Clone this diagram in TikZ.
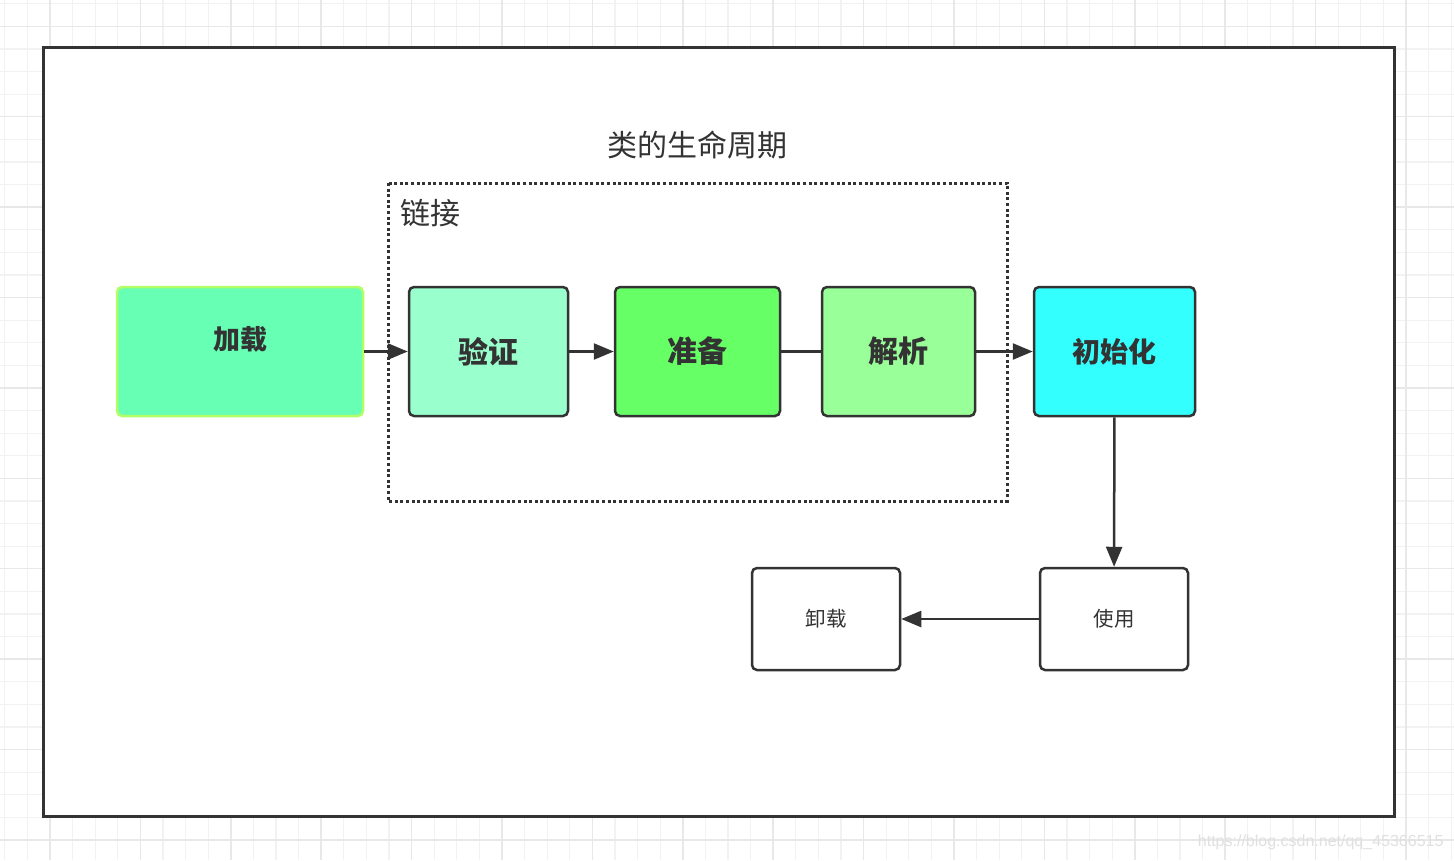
\documentclass[tikz,border=0pt]{standalone}
\usepackage{fontspec}
\usepackage{tikz}
\usetikzlibrary{arrows.meta}
\newfontfamily\cjk{Noto Sans CJK SC}
\newfontfamily\wmfont{Liberation Sans}
\definecolor{ink}{HTML}{333333}
\definecolor{loadfill}{HTML}{66FFB3}
\definecolor{loadline}{HTML}{B3FF66}
\definecolor{verifyfill}{HTML}{99FFCC}
\definecolor{preparefill}{HTML}{66FF66}
\definecolor{resolvefill}{HTML}{99FF99}
\definecolor{initfill}{HTML}{33FFFF}
\definecolor{gridminor}{HTML}{F2F2F2}
\definecolor{gridmajor}{HTML}{E8E8E8}

\begin{document}
\begin{tikzpicture}[x=1pt,y=-1pt,
  stage/.style={draw=ink,line width=2.5pt,rounded corners=5pt,minimum height=129pt,
    text=ink,font=\cjk\bfseries\fontsize{30pt}{34pt}\selectfont},
  plainbox/.style={draw=ink,line width=2.5pt,rounded corners=5pt,fill=white,minimum width=148pt,
    minimum height=102pt,text=ink,font=\cjk\fontsize{20.5pt}{24pt}\selectfont},
  flow/.style={draw=ink,line width=2.5pt,-{Triangle[length=20pt,width=16pt]}}]
\useasboundingbox (0,0) rectangle (1454,860);
\fill[white] (0,0) rectangle (1454,860);
% background grid
\foreach \i in {0,...,64}
  \draw[gridminor,line width=1.2pt] ({4.8+22.6*\i},0) -- ++(0,860);
\foreach \i in {0,...,38}
  \draw[gridminor,line width=1.2pt] (0,{3.7+22.6*\i}) -- ++(1454,0);
\foreach \i in {0,...,15}
  \draw[gridmajor,line width=1.5pt] ({50+90.4*\i},0) -- ++(0,860);
\foreach \i in {0,...,9}
  \draw[gridmajor,line width=1.5pt] (0,{26.3+90.4*\i}) -- ++(1454,0);
% frame
\draw[ink,line width=3pt,fill=white] (43,47) rectangle (1394,816);
\node[text=ink,font=\cjk\fontsize{30pt}{34pt}\selectfont] (title) at (697,145) {类的生命周期};
% linking group
\draw[ink,line width=3pt,dash pattern=on 3pt off 2.6pt] (388,183) rectangle (1007,501);
\node[anchor=west,text=ink,font=\cjk\fontsize{30pt}{34pt}\selectfont] (link) at (397,213) {链接};
% stages
\node[stage,draw=loadline,fill=loadfill,minimum width=246pt,font=\cjk\bfseries\fontsize{27pt}{31pt}\selectfont]
  (load) at (240,351.5) {\raisebox{27pt}{加载}};
\node[stage,fill=verifyfill,minimum width=159pt] (verify) at (488.5,351.5) {验证};
\node[stage,fill=preparefill,minimum width=165pt] (prepare) at (697.5,351.5) {准备};
\node[stage,fill=resolvefill,minimum width=153pt] (resolve) at (898.5,351.5) {解析};
\node[stage,fill=initfill,minimum width=161pt,font=\cjk\bfseries\fontsize{28pt}{32pt}\selectfont]
  (init) at (1114.5,351.5) {初始化};
\node[plainbox] (unload) at (826,619) {卸载};
\node[plainbox] (use) at (1114,619) {使用};
% connectors
\draw[flow] (load) -- (verify);
\draw[flow] (verify) -- (prepare);
\draw[ink,line width=2.5pt] (prepare) -- (resolve);
\draw[flow] (resolve) -- (init);
\draw[flow] (init) -- (use);
\draw[flow] (use) -- (unload);
% watermark
\node[anchor=east,text=black!12,font=\wmfont\fontsize{16pt}{19pt}\selectfont] (mark) at (1447,842) {https://blog.csdn.net/qq\_45366515};
\end{tikzpicture}
\end{document}
